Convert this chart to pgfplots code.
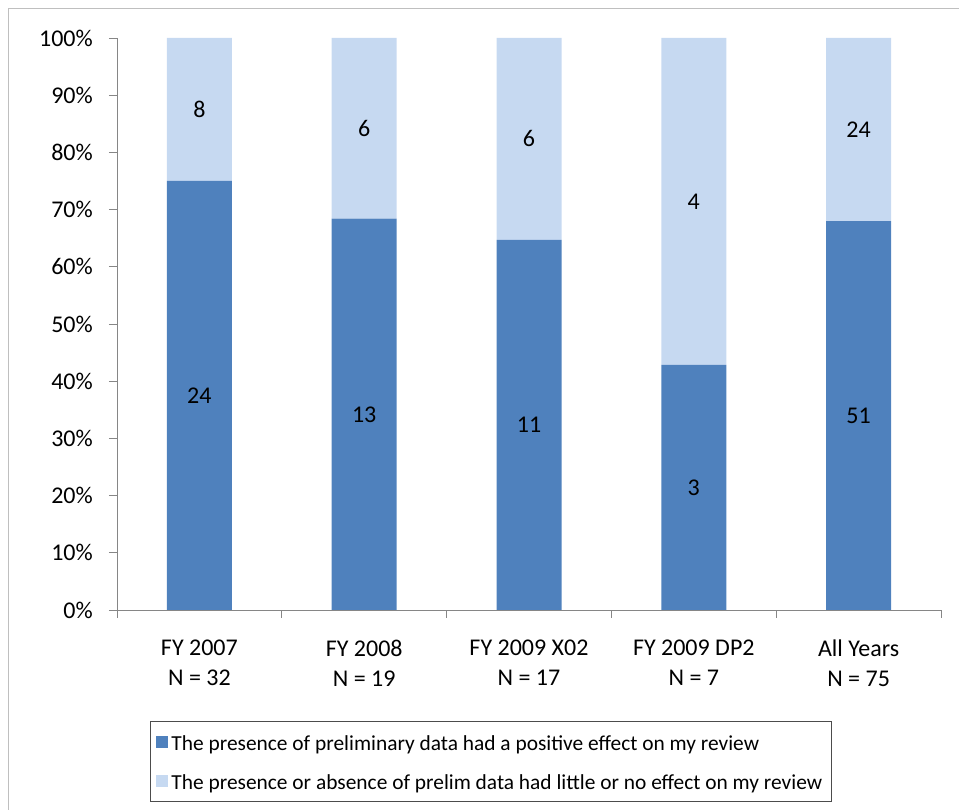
\documentclass[border=0pt]{standalone}
\usepackage{fontspec}
\setmainfont{Carlito}
\usepackage{pgfplots}
\pgfplotsset{compat=1.18}
\usepackage{pgfplotstable}

\definecolor{posblue}{HTML}{4F81BD}
\definecolor{lightblue}{HTML}{C6D9F1}
\definecolor{axisgray}{HTML}{868686}
\definecolor{framegray}{HTML}{BFBFBF}

% share of reviewers (%) and counts for each group
\pgfplotstableread{
x  pos    none   npos  nnone
0  75.00  25.00  24    8
1  68.42  31.58  13    6
2  64.71  35.29  11    6
3  42.86  57.14  3     4
4  68.00  32.00  51    24
}\reviews

\pgfplotsset{
  common/.style={
    at={(117pt,200pt)}, anchor=south west,
    scale only axis, width=824pt, height=572pt,
    xmin=-0.5, xmax=4.5, ymin=0, ymax=100,
  },
}

\begin{document}
\begin{tikzpicture}
\path[use as bounding box] (0pt,0pt) rectangle (959pt,810pt);

\begin{axis}[
  common,
  ybar stacked, bar width=65pt,
  font=\fontsize{24}{30}\selectfont,
  xtick={-0.5,0.5,1.5,2.5,3.5,4.5},
  x tick label as interval,
  xticklabels={{FY 2007\\N = 32},{FY 2008\\N = 19},{FY 2009 X02\\N = 17},{FY 2009 DP2\\N = 7},{All Years\\N = 75}},
  xticklabel style={align=center, inner sep=0pt, yshift=-22pt},
  ytick={0,10,...,100},
  yticklabels={0\%,10\%,20\%,30\%,40\%,50\%,60\%,70\%,80\%,90\%,100\%},
  yticklabel style={inner sep=0pt, xshift=-16pt},
  axis x line*=bottom, axis y line*=left,
  axis line style={axisgray, line width=0.9pt},
  tick style={axisgray, line width=0.9pt},
  tick align=outside, major tick length=8pt,
  legend image code/.code={\fill[#1] (0pt,-6pt) rectangle (12pt,6pt); \path (0pt,11pt);},
  legend cell align=left,
  legend style={
    at={(0.04,-0.194)}, anchor=north west,
    draw=black!70, line width=1pt,
    font=\fontsize{21.4}{25}\selectfont,
    inner xsep=5.5pt, inner ysep=7pt, row sep=12pt,
    nodes={inner xsep=3.5pt, inner ysep=2pt, text height=20pt, text depth=3pt},
  },
]
\addplot[fill=posblue, draw=none] table[x=x, y=pos] {\reviews};
\addplot[fill=lightblue, draw=none] table[x=x, y=none] {\reviews};
\legend{The presence of preliminary data had a positive effect on my review,
        The presence or absence of prelim data had little or no effect on my review}
\end{axis}

% count labels, centred in each segment
\begin{axis}[
  common, hide axis,
  nodes near coords, point meta=explicit symbolic,
  nodes near coords align={center},
  every node near coord/.append style={font=\fontsize{24}{28}\selectfont, text=black},
]
\addplot[draw=none, mark=none] table[x=x, y expr=\thisrow{pos}/2, meta=npos] {\reviews};
\addplot[draw=none, mark=none] table[x=x, y expr=\thisrow{pos}+\thisrow{none}/2, meta=nnone] {\reviews};
\end{axis}

\draw[framegray, line width=1pt] (8pt,0pt) -- (8pt,801pt) -- (959pt,801pt);
\end{tikzpicture}
\end{document}
